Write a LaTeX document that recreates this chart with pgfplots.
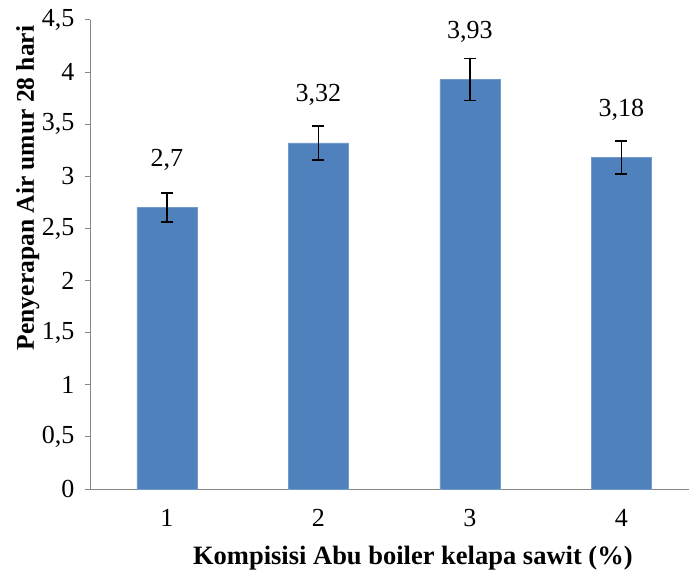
\documentclass[border=0pt]{standalone}
\usepackage{fontspec}
\setmainfont{Liberation Serif}
\usepackage{pgfplots}
\pgfplotsset{compat=1.18}
\definecolor{barblue}{HTML}{4F81BD}
\definecolor{axgray}{HTML}{868686}
\begin{document}
\begin{tikzpicture}
\path[use as bounding box] (-90bp,-89bp) rectangle (599bp,489bp);
\begin{axis}[
  scale only axis,
  width=599bp, height=469bp,
  at={(0,0)}, anchor=south west,
  xmin=0.492, xmax=4.446,
  ymin=0, ymax=4.5,
  axis x line=bottom, axis y line=left,
  axis line style={axgray, line width=1pt, -},
  xtick={1,2,3,4},
  xtick style={draw=none},
  ytick={0,0.5,...,4.5},
  ytick style={axgray, line width=1pt},
  tick align=outside,
  major tick length=5bp,
  yticklabel style={/pgf/number format/use comma, /pgf/number format/fixed, /pgf/number format/precision=1},
  /pgf/number format/assume math mode=true,
  ticklabel style={font=\fontsize{26bp}{29bp}\selectfont},
  xticklabel style={yshift=-12bp},
  yticklabel style={xshift=-7bp},
  xlabel={\textbf{Kompisisi Abu boiler kelapa sawit (\%)}},
  ylabel={\textbf{Penyerapan Air umur 28 hari}},
  xlabel style={font=\fontsize{26.5bp}{30bp}\selectfont, at={(axis description cs:0.539,0)}, anchor=center, yshift=-69bp},
  ylabel style={font=\fontsize{25.5bp}{30bp}\selectfont, at={(axis description cs:-0.104,0.642)}, anchor=center},
  ybar, bar width=60bp,
  nodes near coords,
  nodes near coords style={black, font=\fontsize{26bp}{29bp}\selectfont, anchor=center, yshift=48bp, /pgf/number format/use comma, /pgf/number format/fixed, /pgf/number format/precision=2, /pgf/number format/assume math mode=true},
  clip=false,
]
\addplot+[fill=barblue, draw=barblue!80!white, bar shift=0pt,
  error bars/.cd, y dir=both, y explicit,
  error bar style={black, line width=1.5pt},
  error mark options={black, line width=1.5pt, mark size=6bp, rotate=90},
] coordinates {
  (1,2.70) +- (0,0.14)
  (2,3.32) +- (0,0.165)
  (3,3.93) +- (0,0.20)
  (4,3.18) +- (0,0.16)
};
\end{axis}
\end{tikzpicture}
\end{document}
